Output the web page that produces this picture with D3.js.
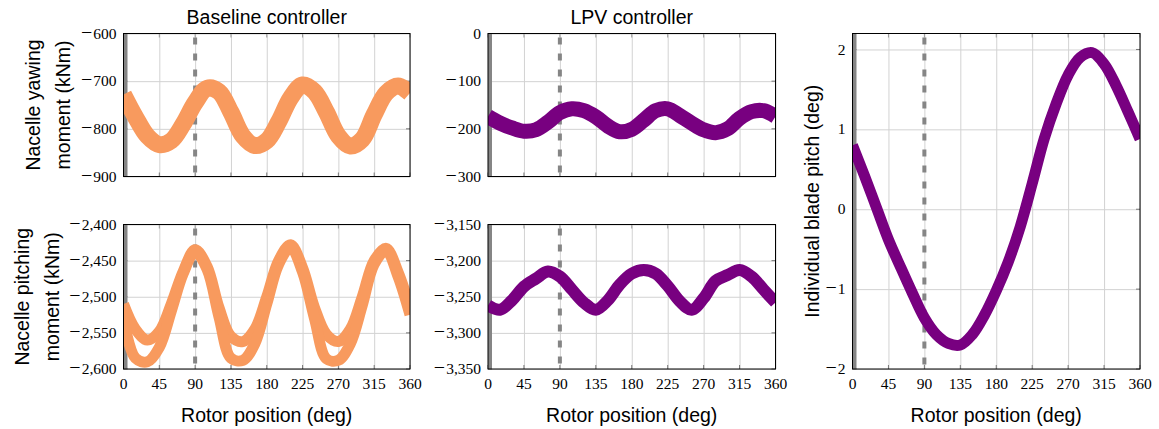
<!DOCTYPE html>
<html>
<head>
<meta charset="utf-8">
<script src="https://cdn.jsdelivr.net/npm/d3@7"></script>
<style>
  body { margin: 0; background: #fff; }
  svg text { fill: #000; }
</style>
</head>
<body>
<div id="chart"></div>
<script>
const svgWidth = 1159
const svgHeight = 429

// rotor position (deg) of every sample
const rotorPos = [0, 15, 30, 45, 60, 75, 90, 105, 120, 135, 150, 165, 180, 195, 210, 225, 240, 255, 270, 285, 300, 315, 330, 345, 360]

const xTicks = [0, 45, 90, 135, 180, 225, 270, 315, 360]
const yawTicksBase = [-900, -800, -700, -600]
const yawTicksLpv = [-300, -200, -100, 0]
const pitchTicksBase = [-2600, -2550, -2500, -2450, -2400]
const pitchTicksLpv = [-3350, -3300, -3250, -3200, -3150]
const bladeTicks = [-2, -1, 0, 1, 2]

// nacelle yawing moment (kNm)
const yawBaseline = [-728, -775, -815, -833, -825, -790, -745, -715, -722, -765, -815, -835, -825, -785, -735, -708, -722, -765, -815, -836, -822, -770, -725, -710, -725]
const yawLpv = [-174, -188, -198, -205, -202, -186, -166, -158, -162, -175, -194, -206, -201, -182, -162, -158, -172, -188, -202, -208, -200, -178, -164, -162, -174]

// nacelle pitching moment (kNm), baseline shows two diverging traces
const pitchBaselineA = [-2510, -2545, -2560, -2548, -2510, -2465, -2435, -2458, -2515, -2555, -2562, -2545, -2500, -2450, -2428, -2460, -2515, -2552, -2562, -2545, -2500, -2450, -2433, -2466, -2515]
const pitchBaselineB = [-2530, -2585, -2590, -2570, -2520, -2468, -2438, -2462, -2528, -2585, -2588, -2565, -2510, -2455, -2432, -2466, -2530, -2586, -2588, -2565, -2512, -2455, -2436, -2472, -2525]
const pitchLpv = [-3262, -3268, -3255, -3236, -3225, -3215, -3222, -3240, -3258, -3268, -3255, -3233, -3218, -3213, -3218, -3235, -3256, -3268, -3252, -3228, -3220, -3213, -3222, -3240, -3258]

// individual blade pitch (deg)
const bladePitch = [0.80, 0.42, 0.02, -0.38, -0.72, -1.05, -1.36, -1.57, -1.68, -1.70, -1.57, -1.33, -1.02, -0.66, -0.22, 0.32, 0.88, 1.32, 1.68, 1.90, 1.96, 1.82, 1.55, 1.22, 0.88]

const orange = "#f89a5e"
const purple = "#780080"
const markGray = "#858585"
const sansSize = "19.5px"
const serifFont = "'Liberation Serif', 'Times New Roman', serif"

const svg = d3.select("#chart").append("svg")
    .attr("width", svgWidth)
    .attr("height", svgHeight)
    .style("font-family", "'Liberation Sans', Arial, sans-serif")

const fmt = d3.format(",")

// tick label with the wide TeX-like minus sign
const tickText = (sel, v) => {
    const s = fmt(v)
    if (s[0] === "\u2212") {
        sel.append("tspan").style("font-size", "20px").text("\u2212")
        sel.append("tspan").attr("dx", 1).text(s.slice(1))
    } else {
        sel.text(s)
    }
}

let clipId = 0

const drawPanel = (p) => {
    const w = p.x1 - p.x0
    const h = p.y1 - p.y0
    const g = svg.append("g").attr("transform", `translate(${p.x0}, ${p.y0})`)

    const x = d3.scaleLinear().domain([0, 360]).range([0, w])
    const y = d3.scaleLinear().domain(p.yDomain).range([h, 0])

    // grid
    g.append("g")
        .call(d3.axisBottom(x).tickValues(xTicks).tickSize(-h).tickFormat(""))
        .attr("transform", `translate(0, ${h})`)
        .call(a => a.select(".domain").remove())
        .call(a => a.selectAll("line").attr("stroke", "#d2d2d2"))
    g.append("g")
        .call(d3.axisLeft(y).tickValues(p.yTicks).tickSize(-w).tickFormat(""))
        .call(a => a.select(".domain").remove())
        .call(a => a.selectAll("line").attr("stroke", "#d2d2d2"))

    // inner tick marks on all four sides
    const tk = 4
    xTicks.forEach(t => {
        g.append("line").attr("x1", x(t)).attr("x2", x(t)).attr("y1", h).attr("y2", h - tk).attr("stroke", "#777")
        g.append("line").attr("x1", x(t)).attr("x2", x(t)).attr("y1", 0).attr("y2", tk).attr("stroke", "#999")
    })
    p.yTicks.forEach(t => {
        g.append("line").attr("x1", 0).attr("x2", tk).attr("y1", y(t)).attr("y2", y(t)).attr("stroke", "#777")
        g.append("line").attr("x1", w).attr("x2", w - tk).attr("y1", y(t)).attr("y2", y(t)).attr("stroke", "#777")
    })

    // reference lines at 0 and 90 deg
    g.append("line")
        .attr("x1", x(0) + 2).attr("x2", x(0) + 2).attr("y1", 0).attr("y2", h)
        .attr("stroke", markGray).attr("stroke-width", 4)
    g.append("line")
        .attr("x1", x(90)).attr("x2", x(90)).attr("y1", 4).attr("y2", h)
        .attr("stroke", markGray).attr("stroke-width", 4)
        .attr("stroke-dasharray", "7 9")

    // data traces
    const id = "clip" + (clipId++)
    g.append("clipPath").attr("id", id)
        .append("rect").attr("width", w).attr("height", h)
    const line = d3.line()
        .x((d, i) => x(rotorPos[i]))
        .y(d => y(d))
        .curve(d3.curveCatmullRom)
    const plot = g.append("g").attr("clip-path", `url(#${id})`)
    p.series.forEach(s => {
        plot.append("path")
            .datum(s)
            .attr("d", line)
            .attr("fill", "none")
            .attr("stroke", p.color)
            .attr("stroke-width", p.lw)
            .attr("stroke-linejoin", "round")
    })

    // frame
    g.append("rect").attr("width", w).attr("height", h)
        .attr("fill", "none").attr("stroke", "#000").attr("stroke-width", 1)

    // y tick labels
    p.yTicks.forEach(d => {
        g.append("text")
            .attr("x", -7)
            .attr("y", y(d))
            .attr("dy", "0.33em")
            .attr("text-anchor", "end")
            .style("font-family", serifFont)
            .style("font-size", "15.5px")
            .call(tickText, d)
    })

    if (p.xLabels) {
        g.selectAll(".xlab").data(xTicks).enter().append("text")
            .attr("x", d => x(d))
            .attr("y", h + 20)
            .attr("text-anchor", "middle")
            .style("font-family", serifFont)
            .style("font-size", "15.5px")
            .text(d => d)
        g.append("text")
            .attr("x", w / 2)
            .attr("y", h + 53)
            .attr("text-anchor", "middle")
            .style("font-size", sansSize)
            .text("Rotor position (deg)")
    }
    if (p.title) {
        g.append("text")
            .attr("x", w / 2)
            .attr("y", -10)
            .attr("text-anchor", "middle")
            .style("font-size", sansSize)
            .text(p.title)
    }
    if (p.yLabel) {
        p.yLabel.forEach((t, i) => {
            g.append("text")
                .attr("transform", `translate(${p.yLabelX[i]}, ${h / 2}) rotate(-90)`)
                .attr("text-anchor", "middle")
                .attr("dy", "0.35em")
                .style("font-size", sansSize)
                .text(t)
        })
    }
}

drawPanel({
    x0: 123.5, x1: 410, y0: 33.5, y1: 176.5,
    yDomain: [-900, -600], yTicks: yawTicksBase,
    series: [yawBaseline], color: orange, lw: 17,
    title: "Baseline controller",
    yLabel: ["Nacelle yawing", "moment (kNm)"], yLabelX: [33 - 123.5, 63 - 123.5]
})
drawPanel({
    x0: 488, x1: 775.5, y0: 33.5, y1: 176.5,
    yDomain: [-300, 0], yTicks: yawTicksLpv,
    series: [yawLpv], color: purple, lw: 15,
    title: "LPV controller"
})
drawPanel({
    x0: 123.5, x1: 410, y0: 224.5, y1: 369,
    yDomain: [-2600, -2400], yTicks: pitchTicksBase,
    series: [pitchBaselineA, pitchBaselineB], color: orange, lw: 11,
    xLabels: true,
    yLabel: ["Nacelle pitching", "moment (kNm)"], yLabelX: [22 - 123.5, 52 - 123.5]
})
drawPanel({
    x0: 488, x1: 775.5, y0: 224.5, y1: 369,
    yDomain: [-3350, -3150], yTicks: pitchTicksLpv,
    series: [pitchLpv], color: purple, lw: 12,
    xLabels: true
})
drawPanel({
    x0: 852.5, x1: 1140, y0: 33.5, y1: 369,
    yDomain: [-2, 2.2], yTicks: bladeTicks,
    series: [bladePitch], color: purple, lw: 11,
    xLabels: true,
    yLabel: ["Individual blade pitch (deg)"], yLabelX: [812 - 852.5]
})
</script>
</body>
</html>
